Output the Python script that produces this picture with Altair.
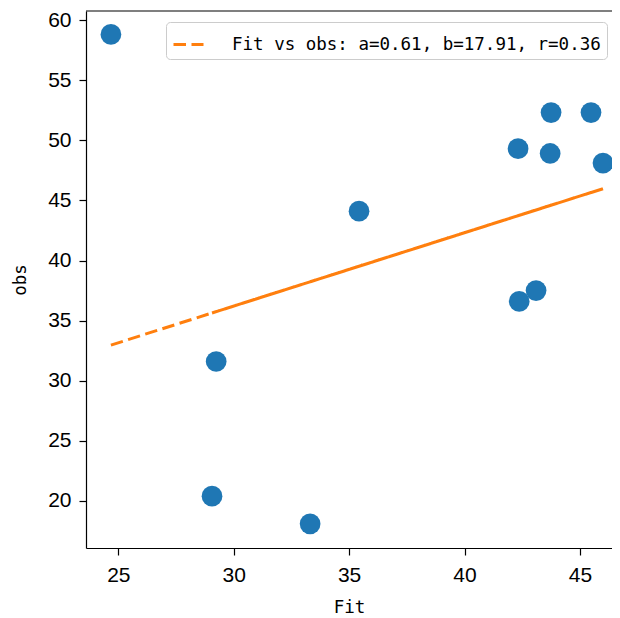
import altair as alt
import pandas as pd

# data
fit_x = [24.68, 46.0, 29.06, 43.75, 33.31, 45.48, 29.24, 42.37, 35.43, 43.10, 42.32, 43.71]
obs_y = [58.8, 48.1, 20.4, 52.3, 18.1, 52.3, 31.6, 36.6, 44.1, 37.5, 49.3, 48.9]
A = 0.61
B = 17.91
R = 0.36
legend_label = f"Fit vs obs: a={A:.2f}, b={B:.2f}, r={R:.2f}"

df = pd.DataFrame({"Fit": fit_x, "obs": obs_y, "idx": list(range(len(fit_x))),
                   "label": [legend_label] * len(fit_x)})

W, H = 526, 537
xscale = alt.Scale(domain=[23.60, 46.39], nice=False, zero=False)
yscale = alt.Scale(domain=[16.09, 60.75], nice=False, zero=False)

base = alt.Chart(df)

points = base.mark_circle(size=430, opacity=1, color="#1f77b4").encode(
    x=alt.X("Fit:Q", scale=xscale,
            axis=alt.Axis(values=[25, 30, 35, 40, 45], title="Fit",
                          labelPadding=9, titlePadding=13)),
    y=alt.Y("obs:Q", scale=yscale,
            axis=alt.Axis(values=[20, 25, 30, 35, 40, 45, 50, 55, 60], title="obs",
                          labelPadding=8, titlePadding=18)),
)

line = base.transform_calculate(
    fitline=f"{A}*datum.Fit + {B}"
).mark_line(strokeWidth=3, strokeDash=[12.5, 5.5]).encode(
    x=alt.X("Fit:Q", scale=xscale),
    y=alt.Y("fitline:Q", scale=yscale),
    order=alt.Order("idx:Q"),
    color=alt.Color("label:N", scale=alt.Scale(range=["#ff7f0e"]),
                    legend=alt.Legend(title=None, orient="none", legendX=80, legendY=11,
                                      symbolType="stroke", symbolSize=900,
                                      symbolStrokeWidth=3, symbolDash=[12.5, 5.5],
                                      labelFont="DejaVu Sans Mono", labelFontSize=17.5,
                                      labelColor="black", labelOffset=27, labelLimit=0,
                                      fillColor="rgba(255,255,255,0.8)",
                                      strokeColor="#cccccc", cornerRadius=4,
                                      padding=6)),
)

top = alt.Chart(pd.DataFrame({"a": [0]})).mark_rule(color="black", strokeWidth=1.2).encode(
    x=alt.value(0), x2=alt.value(W + 10), y=alt.value(0)
)

chart = alt.layer(points, line, top).properties(
    width=W, height=H,
    autosize=alt.AutoSizeParams(type="none"),
    padding={"left": 78, "top": 3, "right": 0, "bottom": 70},
).configure_view(stroke=None).configure_axis(
    grid=False, domainColor="black", domainWidth=1.2,
    tickColor="black", tickWidth=1.2, tickSize=7,
    labelFont="Liberation Sans", labelFontSize=21, labelColor="black",
    titleFont="DejaVu Sans Mono", titleFontSize=17.5, titleFontWeight="normal",
    titleColor="black",
)

chart.save("out.html", embed_options={"renderer": "svg", "actions": False})
